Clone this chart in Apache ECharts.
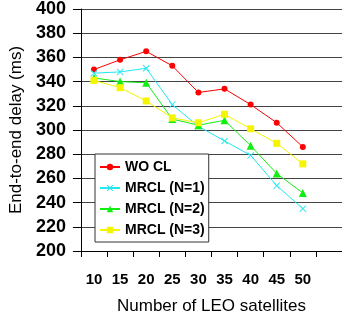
<!DOCTYPE html>
<html><head><meta charset="utf-8">
<script src="https://cdn.jsdelivr.net/npm/echarts@6/dist/echarts.min.js"></script>
<style>html,body{margin:0;padding:0;background:#fff}#c{width:342px;height:324px}</style>
</head><body><div id="c"></div>
<script>
const categories = ['10','15','20','25','30','35','40','45','50',''];
const woCL  = [350,358,365,353,331,334,321,306,286];
const mrcl1 = [347,348,351,321,303,291,279,254,235];
const mrcl2 = [343,340,339,309,304,308,287,264,248];
const mrcl3 = [341,335,324,310,306,313,301,289,272];
const seriesNames = ['WO CL','MRCL (N=1)','MRCL (N=2)','MRCL (N=3)'];
const yTicks = {min:200, max:400, interval:20};

const FONT = '"Liberation Sans", Arial, sans-serif';
const cross = 'path://M0,1L1,0L5,4L9,0L10,1L6,5L10,9L9,10L5,6L1,10L0,9L4,5Z';
function s(name, data, color, symbol, size){
  return {name, type:'line', data, symbol, symbolSize:size,
    lineStyle:{color, width:1}, itemStyle:{color}, animation:false};
}
const chart = echarts.init(document.getElementById('c'), null, {renderer:'canvas'});
chart.setOption({
  backgroundColor:'#fff',
  animation:false,
  grid:{left:77, top:8, width:273, bottom:73, containLabel:false},
  legend:{
    orient:'vertical', left:95, top:154,
    padding:[5,4,4,4], itemGap:5, itemWidth:20, itemHeight:8,
    backgroundColor:'#fff', borderColor:'#333', borderWidth:1,
    textStyle:{fontFamily:FONT, fontWeight:'bold', fontSize:14, color:'#000', lineHeight:16},
    data:seriesNames
  },
  xAxis:{
    type:'category', data:categories, boundaryGap:true,
    axisLine:{lineStyle:{color:'#000', width:1}},
    axisTick:{show:true, length:6, lineStyle:{color:'#000'}, alignWithLabel:false},
    axisLabel:{fontFamily:FONT, fontWeight:'bold', fontSize:15, color:'#000', margin:21, interval:0},
    name:'Number of LEO satellites', nameLocation:'middle', nameGap:47,
    nameTextStyle:{fontFamily:FONT, fontSize:17, color:'#000'}
  },
  yAxis:{
    type:'value', min:yTicks.min, max:yTicks.max, interval:yTicks.interval,
    axisLine:{show:true, lineStyle:{color:'#000'}},
    axisTick:{show:true, length:8, lineStyle:{color:'#000'}},
    splitLine:{show:true, lineStyle:{color:'#444', width:1}},
    axisLabel:{fontFamily:FONT, fontWeight:'bold', fontSize:18, color:'#000', margin:15},
    name:'End-to-end delay (ms)', nameLocation:'middle', nameGap:50,
    nameTextStyle:{fontFamily:FONT, fontSize:17, color:'#000'}
  },
  series:[
    s(seriesNames[0], woCL, '#ff0000', 'circle', 6),
    s(seriesNames[1], mrcl1, '#22e8f0', cross, 7),
    s(seriesNames[2], mrcl2, '#11ee11', 'triangle', 8),
    s(seriesNames[3], mrcl3, '#f5f500', 'rect', 7)
  ]
});
</script>
</body></html>
